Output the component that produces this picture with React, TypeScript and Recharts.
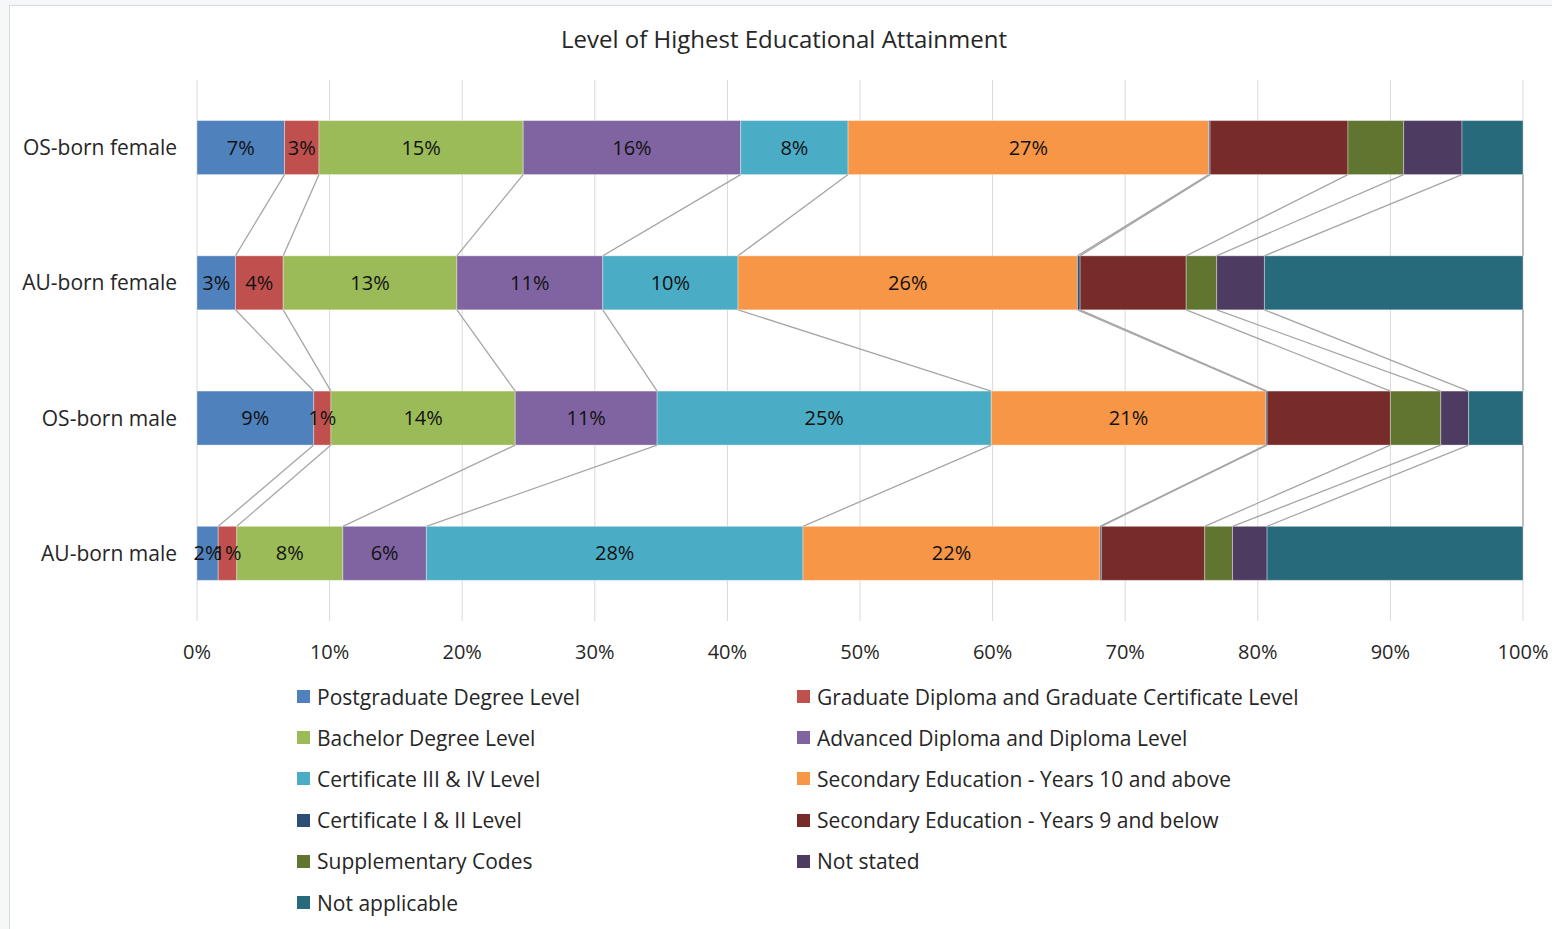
import React from 'react';
import { BarChart, Bar, XAxis, YAxis, CartesianGrid, LabelList } from 'recharts';

// categories top to bottom
const categories = ['OS-born female', 'AU-born female', 'OS-born male', 'AU-born male'];

// share of each group (%)
const postgrad = [6.6, 2.9, 8.8, 1.6];
const gradDip = [2.6, 3.6, 1.3, 1.4];
const bachelor = [15.4, 13.1, 13.9, 8.0];
const advDip = [16.4, 11.0, 10.7, 6.3];
const certIII = [8.1, 10.2, 25.2, 28.4];
const sec10 = [27.2, 25.6, 20.7, 22.4];
const certI = [0.1, 0.2, 0.1, 0.1];
const sec9 = [10.4, 8.0, 9.3, 7.8];
const supp = [4.2, 2.3, 3.8, 2.1];
const notStated = [4.4, 3.6, 2.1, 2.6];
const notApplicable = [4.6, 19.5, 4.1, 19.3];

const xTicks = [0, 10, 20, 30, 40, 50, 60, 70, 80, 90, 100];

const SERIES = [
    { key: 'postgrad', name: 'Postgraduate Degree Level', color: '#4F81BD', values: postgrad, label: true },
    { key: 'gradDip', name: 'Graduate Diploma and Graduate Certificate Level', color: '#C0504D', values: gradDip, label: true },
    { key: 'bachelor', name: 'Bachelor Degree Level', color: '#9BBB59', values: bachelor, label: true },
    { key: 'advDip', name: 'Advanced Diploma and Diploma Level', color: '#8064A2', values: advDip, label: true },
    { key: 'certIII', name: 'Certificate III & IV Level', color: '#4BACC6', values: certIII, label: true },
    { key: 'sec10', name: 'Secondary Education - Years 10 and above', color: '#F79646', values: sec10, label: true },
    { key: 'certI', name: 'Certificate I & II Level', color: '#2C4D75', values: certI, label: false },
    { key: 'sec9', name: 'Secondary Education - Years 9 and below', color: '#772C2A', values: sec9, label: false },
    { key: 'supp', name: 'Supplementary Codes', color: '#5F7530', values: supp, label: false },
    { key: 'notStated', name: 'Not stated', color: '#4D3B62', values: notStated, label: false },
    { key: 'notApplicable', name: 'Not applicable', color: '#276A7C', values: notApplicable, label: false },
];

const data = categories.map((name, i) => {
    const row: any = { name };
    SERIES.forEach((s) => { row[s.key] = s.values[i]; });
    return row;
});

const FONT = '"Open Sans", "Noto Sans", sans-serif';
const TEXT = '#262626';

// right edges of each series per category, so the next bar can draw the series line back to it
const edgeStore: Record<string, Array<{ x: number; bottom: number }>> = {};

const seriesLineShape = (key: string) => (props: any) => {
    const { x, y, width, height, fill, payload } = props;
    const idx = categories.indexOf(payload?.name);
    const right = x + width;
    const store = (edgeStore[key] = edgeStore[key] || []);
    store[idx] = { x: right, bottom: y + height };
    const prev = idx > 0 ? store[idx - 1] : undefined;
    return (
        <g>
            <rect x={x} y={y} width={Math.max(width, 0)} height={height} fill={fill} stroke="#ffffff" strokeOpacity={0.35} strokeWidth={1} />
            {prev && (
                <line x1={prev.x} y1={prev.bottom} x2={right} y2={y} stroke="#A6A6A6" strokeWidth={1.3} />
            )}
        </g>
    );
};

const legendRows: typeof SERIES[] = [];
for (let i = 0; i < SERIES.length; i += 2) legendRows.push(SERIES.slice(i, i + 2));

export default function App() {
    return (
        <div style={{ position: 'absolute', left: 0, top: 0, width: 1552, height: 929, background: '#f6f7f9', overflow: 'hidden', fontFamily: FONT }}>
            <div style={{ position: 'absolute', left: 9, top: 5, width: 1560, height: 940, background: '#fff', border: '1px solid #d9d9d9' }} />

            <div style={{ position: 'absolute', left: 0, top: 22, width: 1568, textAlign: 'center', fontSize: 24, color: TEXT }}>
                Level of Highest Educational Attainment
            </div>

            <div style={{ position: 'absolute', left: 0, top: 0 }}>
                <BarChart
                    width={1552}
                    height={929}
                    data={data}
                    layout="vertical"
                    margin={{ top: 80, right: 29, bottom: 268, left: 17 }}
                    barCategoryGap="30%"
                >
                    <CartesianGrid horizontal={false} stroke="#D9D9D9" />
                    <XAxis
                        type="number"
                        domain={[0, 100]}
                        ticks={xTicks}
                        tickFormatter={(v) => `${v}%`}
                        axisLine={false}
                        tickLine={false}
                        tickMargin={18}
                        height={40}
                        interval={0}
                        tick={{ fill: TEXT, fontSize: 20, fontFamily: FONT }}
                    />
                    <YAxis
                        type="category"
                        dataKey="name"
                        width={180}
                        axisLine={false}
                        tickLine={false}
                        tickMargin={14}
                        tick={{ fill: TEXT, fontSize: 21, fontFamily: FONT }}
                    />
                    {SERIES.map((s) => (
                        <Bar
                            key={s.key}
                            dataKey={s.key}
                            name={s.name}
                            stackId="a"
                            fill={s.color}
                            isAnimationActive={false}
                            shape={seriesLineShape(s.key)}
                        >
                            {s.label && (
                                <LabelList
                                    dataKey={s.key}
                                    position="center"
                                    formatter={(v: any) => `${Math.round(Number(v))}%`}
                                    style={{ fill: '#111', fontSize: 20, fontFamily: FONT }}
                                />
                            )}
                        </Bar>
                    ))}
                </BarChart>
            </div>

            <div style={{ position: 'absolute', left: 297, top: 676, width: 1100 }}>
                {legendRows.map((row, r) => (
                    <div key={r} style={{ display: 'flex', height: 41.2, alignItems: 'center' }}>
                        {row.map((s) => (
                            <div key={s.key} style={{ width: 500, flexShrink: 0, display: 'flex', alignItems: 'center', fontSize: 21, color: TEXT, whiteSpace: 'nowrap' }}>
                                <span style={{ display: 'inline-block', width: 13, height: 13, background: s.color, marginRight: 7, flexShrink: 0 }} />
                                {s.name}
                            </div>
                        ))}
                    </div>
                ))}
            </div>
        </div>
    );
}
